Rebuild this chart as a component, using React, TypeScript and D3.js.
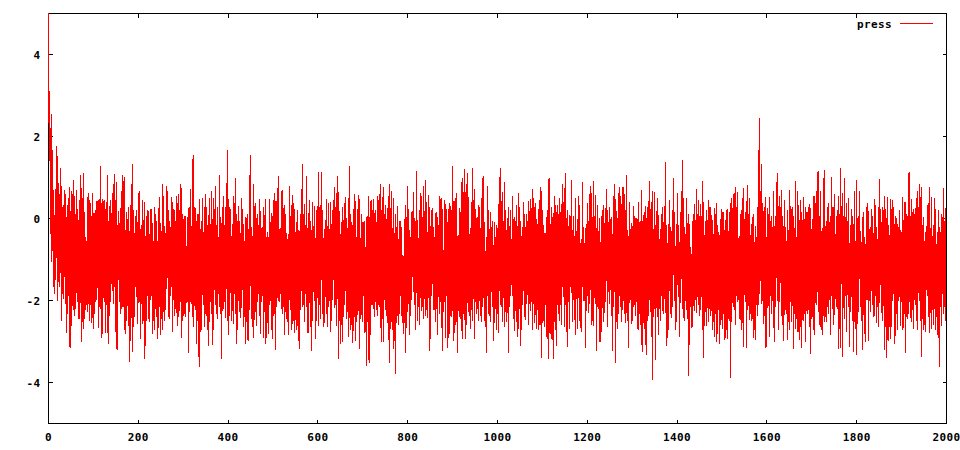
import React from "react";
import * as d3 from "d3";

// Envelope of the "press" series: for each ~3-step bin,
// the highest value (pressHigh) and the lowest value (pressLow).
const pressHigh: number[] = [
  5.4, 3.12, 2.55, 1.68, 0.7, 0.72, 1.76, 1.52, 0.6, 1.24,
  0.8, 0.34, 0.7, 0.6, 0.33, 0.5, 0.78, 0.68, 0.6, 0.93,
  0.1, 0.7, 0.24, 0.44, 1.06, 0.75, 1.1, 0.15, -0.44, 0.52,
  0.63, 0.46, 0.05, 0.63, 0.13, 0.21, 0.42, 0.46, 0.48, 1.27,
  0.48, 0.42, 0.44, 0.4, 1.07, -0.05, 0.44, 0.13, 0.62, 1.09,
  0.46, 0.88, 0.18, -0.11, 0.26, 1.07, 0.91, 1.0, 0.15, -0.02,
  0.28, 0.33, 0.85, 1.32, -0.36, 0.05, 0.2, 0.62, 0.67, -0.26,
  0.44, -0.03, 0.4, 0.05, 0.2, 0.18, 0.23, 0.24, -0.11, 0.29,
  0.11, -0.05, 0.26, 0.52, -0.11, 0.83, 0.54, -0.18, 0.8, 0.67,
  0.2, -0.21, 0.52, 0.41, 0.21, -0.05, 0.55, 0.6, 0.2, 0.83,
  0.11, -0.02, 0.07, -0.66, 0.03, 0.28, 0.72, -0.18, 1.54, 0.28,
  0.26, 0.11,
  0.11, 0.47, -0.07, 0.49, -0.34, 0.59, 0.29, -0.15, 0.49, -0.13,
  0.68, 0.49, 0.24, 0.8, 0.28, -0.44, 1.05, -0.1, 0.29, 0.54,
  0.28, 0.86, 1.66, 0.29, 0.23, -0.42, 0.55, 0.37, 0.98, -0.05,
  0.31, -0.07, 0.5, 0.23, -0.13, 0.03, 0.02, 0.1, 1.05, 1.54,
  -0.21, 0.83, 0.31, 0.39, 0.11, -0.17, 0.47, -0.24, -0.2, 0.28,
  0.47, -0.46, -0.34, 0.47, -0.09, 0.13, 0.44, 0.63, 0.42, 0.75,
  1.04, -0.24, 0.67, 0.7, 0.33, 0.1, -0.36, -0.37, 0.8, 0.07,
  0.57, 0.39, 0.23, -0.08, 0.2, -0.29, 0.11, 0.72, 1.32, 0.36,
  -0.17, 1.04, 0.13, 0.46, -0.05, 0.41, -0.18, 0.31, 0.2, 0.31,
  1.13, 0.32, 1.13, 0.21, -0.25, -0.03, 0.47, 0.37, -0.25, 0.41,
  0.21, 0.46, 0.76, 0.63, 1.04, 0.64, -0.37, -0.09, 0.28, 0.39,
  0.52, 0.02,
  0.5, 1.27, 0.1, -0.17, 0.23, 0.6, -0.46, 0.24, 0.58, -0.47,
  0.1, -0.09, -0.07, -0.7, 0.05, 0.55, 0.03, 0.44, 0.21, 0.47,
  0.21, -0.09, 0.54, 0.6, 0.85, 0.21, 0.78, 0.1, 0.34, 0.26,
  0.54, 0.83, 0.68, -0.24, 0.5, 0.11, -0.2, 0.31, -0.07, -0.07,
  -0.2, -0.91, -0.01, 0.33, 0.8, 0.24, -0.28, 0.15, 0.18, 0.65,
  -0.07, 1.17, -0.03, 0.2, 0.62, 0.54, 0.8, 0.18, 0.94, -0.33,
  0.57, 0.28, 0.2, 0.26, -0.21, 0.13, 0.15, 0.03, 0.54, 0.47,
  0.5, -0.76, 0.46, 0.36, -0.09, 0.23, 0.37, 0.21, 1.28, 0.42,
  0.5, 0.63, -0.41, 0.26, 0.15, 0.98, 0.64, 1.21, 0.85, 1.11,
  0.52, -0.24, 0.41, 1.24, 0.73, 0.24, 0.0, 0.34, 0.29, -0.23,
  0.98, 1.04, -0.08, -0.46, 0.8, 0.21, 0.15, -0.21, -0.07, -0.09,
  -0.46, -0.17,
  0.36, 1.01, 1.24, 0.64, -0.07, 0.88, -0.29, 0.0, 0.28, 0.2,
  -0.49, 0.55, 0.03, -0.05, 0.32, 0.63, 0.28, -0.07, -0.2, 0.41,
  0.11, 0.1, -0.07, 0.42, 0.47, 0.26, 0.72, 0.29, 0.39, -0.01,
  0.23, 0.44, 0.78, 0.2, -0.15, -0.36, 0.03, 0.2, 0.99, -0.13,
  0.28, 0.13, 0.56, 0.34, 0.33, 0.1, 0.5, 0.36, 0.85, 0.4,
  1.11, 0.02, 0.2, 0.08, 0.05, 0.94, 0.07, -0.42, 0.5, -0.02,
  0.55, 0.34, -0.5, 0.89, -0.21, -0.24, -0.13, 0.37, 0.59, 0.8,
  0.63, 0.91, 0.07, 0.57, 0.34, -0.31, 0.02, 0.05, 0.2, 0.32,
  0.26, 0.73, 0.2, 0.28, -0.02, 0.03, 0.54, 0.83, 0.47, 0.0,
  0.62, 0.76, 0.36, 0.78, 0.78, 0.2, 1.05, -0.29, 0.41, -0.26,
  -0.1, 0.31, 0.07, 0.02, -0.02, 0.4, -0.07, 0.7, -0.07, 0.16,
  0.31, 0.0,
  0.42, 0.91, 0.23, 0.67, -0.25, 0.65, 0.18, 0.49, 0.08, -0.25,
  0.1, 0.29, 0.31, 1.39, -0.17, -0.13, 0.44, -0.21, 0.2, 0.99,
  0.16, -0.13, 0.63, -0.15, 0.16, 0.67, 1.43, -0.2, -0.39, 0.5,
  0.1, -0.13, -0.7, -0.07, 0.11, 0.36, 0.72, 0.11, 0.44, 0.36,
  0.07, 0.91, -0.41, -0.07, 0.2, 0.46, 0.29, 0.28, -0.03, -0.37,
  0.26, 0.39, -0.15, -0.33, -0.01, 0.23, 0.15, -0.29, -0.03, 0.24,
  -0.31, 0.15, 0.5, 0.26, 0.59, 0.78, 0.28, 0.64, -0.42, 0.11,
  0.2, 0.75, -0.02, 0.15, 0.81, 0.1, 0.49, -0.13, 0.03, 0.1,
  -0.18, -0.46, 0.29, 2.46, 0.68, 1.33, 0.18, 0.28, 0.52, 0.26,
  0.11, 0.52, 0.07, -0.21, 0.68, 0.05, 0.89, 1.11, 0.56, 0.29,
  0.7, -0.18, 0.44, -0.21, 0.2, -0.28, 0.7, 0.24, 0.29, 0.07,
  0.91, -0.46,
  0.67, -0.03, 0.46, 0.15, 0.52, -0.01, 0.28, 0.15, 0.29, 0.36,
  -0.25, -0.01, 0.54, 0.37, 0.67, 1.15, 0.07, 0.67, -0.24, 0.99,
  1.19, -0.07, 0.28, 0.39, 0.07, 1.02, 0.28, 0.59, -0.39, 0.07,
  0.55, 0.11, 1.24, 0.63, 0.07, 0.98, 0.37, -0.05, 0.5, -0.17,
  0.24, 0.07, 0.68, -0.54, 0.93, 0.07, 0.67, -0.31, 0.03, 0.15,
  -0.46, 0.29, 0.39, 0.18, -0.2, 0.24, 0.07, 0.47, 0.34, -0.21,
  0.29, 0.96, 0.23, 0.29, 0.21, 0.54, 0.02, 0.52, -0.17, 0.47,
  0.24, 0.46, -0.13, 0.05, 0.02, -0.21, 0.2, -0.29, 0.52, -0.03,
  0.4, 0.11, 0.07, 1.14, 0.07, 0.47, 0.24, 0.11, 0.26, 0.68,
  0.29, 0.83, 0.78, -0.15, 0.03, -0.33, -0.18, 0.33, 0.78, -0.23,
  0.52, -0.15, 0.5, 0.24, -0.33, 0.21, -0.21, 0.1, 0.03, 0.75,
  0.26,
];

const pressLow: number[] = [
  1.41, -0.37, -1.07, -1.67, -1.84, -1.51, -2.0, -1.55, -1.67, -2.49,
  -1.84, -1.96, -2.08, -2.8, -2.33, -3.14, -3.15, -2.63, -2.24, -2.37,
  -2.2, -2.04, -2.45, -2.45, -3.02, -2.53, -2.69, -2.24, -2.1, -2.28,
  -2.49, -2.12, -2.55, -2.69, -2.34, -2.04, -1.69, -2.67, -2.2, -2.91,
  -2.81, -2.04, -2.8, -2.1, -3.07, -2.37, -2.04, -1.76, -2.08, -1.66,
  -3.18, -3.2, -1.51, -2.33, -2.2, -2.15, -2.73, -2.81, -2.49, -2.61,
  -3.5, -2.99, -3.26, -2.65, -2.41, -1.92, -2.57, -2.07, -2.93, -2.08,
  -2.57, -3.42, -3.1, -2.5, -2.45, -2.53, -1.98, -2.81, -2.49, -2.73,
  -2.41, -2.93, -2.67, -2.85, -2.45, -2.73, -2.5, -2.24, -1.72, -2.41,
  -2.45, -1.88, -2.77, -1.98, -2.37, -2.31, -2.61, -2.41, -2.04, -2.91,
  -2.49, -2.33, -2.41, -2.07, -3.28, -2.28, -2.08, -2.41, -2.65, -2.24,
  -3.06, -2.49,
  -3.63, -2.77, -2.73, -2.1, -2.65, -2.33, -2.73, -3.12, -2.53, -2.33,
  -3.09, -2.73, -2.1, -2.33, -2.45, -2.16, -2.33, -3.43, -2.2, -2.04,
  -2.42, -2.49, -2.85, -2.37, -2.49, -2.26, -2.57, -2.33, -3.06, -2.72,
  -2.28, -2.42, -2.18, -2.65, -2.41, -3.07, -2.96, -2.98, -2.24, -2.45,
  -2.65, -2.91, -2.28, -2.61, -2.04, -2.37, -2.81, -2.04, -2.91, -2.28,
  -3.07, -2.55, -2.81, -2.1, -2.73, -2.94, -2.39, -3.2, -2.16, -2.0,
  -2.04, -1.85, -2.33, -2.16, -2.85, -2.45, -2.53, -2.85, -2.24, -2.73,
  -2.57, -2.8, -2.47, -2.73, -2.98, -3.18, -2.24, -2.16, -2.1, -2.53,
  -2.15, -2.8, -2.8, -2.65, -3.24, -2.49, -2.02, -2.94, -2.49, -2.63,
  -2.1, -2.45, -2.33, -2.65, -2.54, -2.33, -2.65, -2.15, -2.77, -2.49,
  -1.98, -2.18, -2.12, -2.61, -3.43, -2.49, -3.06, -3.0, -2.41, -2.12,
  -2.45, -2.28,
  -2.88, -2.73, -2.59, -3.04, -2.41, -2.98, -2.53, -2.26, -3.18, -2.45,
  -2.53, -1.9, -2.8, -3.59, -2.52, -3.53, -2.85, -2.1, -2.2, -2.41,
  -2.04, -2.39, -2.12, -2.16, -3.02, -2.45, -3.02, -2.24, -2.37, -2.55,
  -3.53, -2.69, -2.53, -3.18, -2.98, -3.79, -2.39, -2.59, -2.33, -2.37,
  -2.55, -2.81, -3.28, -2.67, -2.28, -2.85, -2.39, -1.98, -1.8, -2.1,
  -2.72, -2.49, -2.16, -2.59, -2.26, -2.15, -2.45, -2.37, -2.23, -2.42,
  -3.24, -2.94, -1.9, -2.23, -2.24, -2.52, -2.85, -1.92, -2.33, -2.67,
  -3.24, -2.28, -2.91, -1.9, -3.15, -2.81, -2.37, -2.41, -2.98, -2.8,
  -2.59, -3.28, -2.26, -2.45, -2.75, -2.94, -2.47, -2.94, -2.59, -2.28,
  -2.37, -2.69, -2.49, -1.96, -2.94, -2.33, -2.2, -2.49, -2.39, -2.52,
  -2.16, -2.49, -2.65, -3.28, -2.33, -2.39, -2.53, -2.16, -2.98, -2.55,
  -2.73, -2.33,
  -2.8, -2.1, -2.16, -2.52, -2.65, -2.28, -2.53, -3.28, -2.16, -1.9,
  -1.88, -2.45, -2.75, -2.53, -2.89, -2.69, -3.11, -2.73, -2.1, -2.41,
  -2.47, -2.08, -2.59, -2.08, -2.26, -2.73, -2.08, -2.55, -2.69, -2.23,
  -2.73, -2.59, -3.4, -2.55, -2.65, -2.12, -2.94, -3.42, -2.8, -2.94,
  -2.96, -3.42, -2.73, -3.1, -2.1, -2.49, -2.12, -2.59, -1.92, -2.65,
  -2.1, -3.14, -2.04, -2.69, -1.82, -2.53, -1.98, -2.85, -1.96, -2.69,
  -2.49, -2.67, -2.77, -2.0, -2.0, -3.15, -1.88, -2.31, -2.08, -2.59,
  -2.49, -2.61, -2.08, -3.22, -2.16, -3.0, -3.01, -2.77, -2.52, -2.31,
  -2.04, -2.65, -1.8, -2.08, -2.39, -3.22, -2.16, -3.53, -2.52, -2.69,
  -1.88, -2.15, -2.53, -2.0, -2.33, -2.55, -2.49, -3.15, -2.07, -2.57,
  -2.49, -2.16, -2.39, -2.04, -2.73, -2.33, -2.59, -3.26, -2.55, -2.69,
  -3.32, -2.49,
  -2.37, -2.28, -2.88, -3.93, -2.2, -3.46, -2.18, -2.85, -2.2, -2.49,
  -2.26, -2.33, -1.96, -3.12, -2.91, -2.73, -2.33, -2.42, -2.15, -2.0,
  -2.73, -2.52, -1.92, -2.89, -2.07, -2.2, -2.42, -2.49, -2.23, -2.45,
  -3.85, -2.15, -2.67, -2.65, -2.26, -1.98, -2.31, -2.1, -2.37, -2.23,
  -2.73, -3.4, -2.63, -2.61, -2.18, -2.52, -2.37, -2.26, -2.73, -2.89,
  -2.33, -3.0, -2.23, -3.06, -2.59, -2.69, -2.33, -2.96, -2.73, -2.94,
  -2.49, -3.89, -2.53, -2.16, -2.24, -2.59, -2.04, -1.98, -2.45, -2.73,
  -2.55, -3.14, -2.04, -3.15, -2.24, -2.47, -2.33, -2.49, -2.91, -2.73,
  -2.96, -2.37, -2.12, -1.84, -2.08, -2.0, -2.57, -3.15, -3.14, -2.18,
  -2.89, -1.88, -2.33, -2.67, -3.02, -2.16, -2.0, -2.73, -2.04, -2.37,
  -2.59, -2.98, -2.23, -2.33, -2.96, -2.73, -2.04, -2.53, -3.18, -2.33,
  -2.69, -2.77,
  -2.77, -2.96, -3.15, -2.47, -2.49, -3.01, -2.26, -2.33, -2.65, -3.3,
  -2.45, -2.73, -2.85, -2.1, -1.8, -2.28, -2.65, -2.72, -2.85, -2.53,
  -2.41, -2.53, -2.33, -1.98, -2.85, -2.2, -2.59, -2.36, -2.16, -2.2,
  -3.18, -3.15, -1.59, -3.37, -2.45, -1.88, -2.77, -2.16, -3.14, -2.28,
  -2.49, -3.26, -2.53, -3.32, -2.57, -2.28, -2.16, -2.49, -3.2, -2.81,
  -3.02, -1.98, -2.98, -2.0, -2.28, -2.1, -2.41, -2.37, -2.55, -2.16,
  -2.65, -1.63, -2.31, -2.49, -3.2, -2.65, -3.4, -2.98, -2.65, -2.94,
  -2.02, -1.84, -3.06, -2.33, -2.73, -2.0, -2.63, -2.03, -2.72, -2.33,
  -3.28, -2.45, -2.33, -2.04, -2.53, -2.24, -2.69, -2.12, -2.49, -2.73,
  -2.0, -2.49, -3.37, -2.73, -2.59, -2.77, -1.88, -2.41, -2.8, -2.69,
  -2.24, -2.59, -2.73, -2.41, -2.85, -3.63, -2.16, -2.61, -2.33, -2.16,
  -2.49,
];

const xTicks = [0, 200, 400, 600, 800, 1000, 1200, 1400, 1600, 1800, 2000];
const yTicks = [-4, -2, 0, 2, 4];
const xDomain: [number, number] = [0, 2000];
const yDomain: [number, number] = [-5, 5];
const seriesName = "press";

export default function App() {
  const W = 960;
  const H = 450;
  const left = 48.5, right = 946.5, top = 13.5, bottom = 423.5;
  const x = d3.scaleLinear().domain(xDomain).range([left, right]);
  const y = d3.scaleLinear().domain(yDomain).range([bottom, top]);

  const n = Math.min(pressHigh.length, pressLow.length);
  const step = (xDomain[1] - xDomain[0]) / n;
  const pts: [number, number][] = [];
  for (let k = 0; k < n; k++) {
    pts.push([xDomain[0] + k * step, pressHigh[k]]);
    pts.push([xDomain[0] + k * step + step / 2, pressLow[k]]);
  }
  const line = d3
    .line<[number, number]>()
    .x((d) => x(d[0]))
    .y((d) => y(d[1]));

  const font = {
    fontFamily: "'DejaVu Sans Mono', 'Liberation Mono', monospace",
    fontWeight: 700 as const,
    fontSize: 11,
    letterSpacing: 0.4,
  };
  const tl = 4;

  return (
    <svg
      width={W}
      height={H}
      viewBox={`0 0 ${W} ${H}`}
      style={{ position: "absolute", left: 0, top: 0, background: "#fff" }}
    >
      <defs>
        <clipPath id="plotclip">
          <rect x={left - 0.5} y={top - 0.5} width={right - left + 1} height={bottom - top + 1} />
        </clipPath>
      </defs>
      <rect x={0} y={0} width={W} height={H} fill="#fff" />
      <g stroke="#000" strokeWidth={1} shapeRendering="crispEdges">
        {xTicks.map((t) => (
          <g key={"xt" + t}>
            <line x1={x(t)} x2={x(t)} y1={bottom} y2={bottom - tl} />
            <line x1={x(t)} x2={x(t)} y1={top} y2={top + tl} />
          </g>
        ))}
        {yTicks.map((t) => (
          <g key={"yt" + t}>
            <line x1={left} x2={left + tl} y1={y(t)} y2={y(t)} />
            <line x1={right} x2={right - tl} y1={y(t)} y2={y(t)} />
          </g>
        ))}
        <rect x={left} y={top} width={right - left} height={bottom - top} fill="none" />
      </g>
      <g clipPath="url(#plotclip)">
        <path
          d={line(pts) || ""}
          fill="none"
          stroke="#ff0000"
          strokeWidth={1}
          strokeLinejoin="miter"
          shapeRendering="crispEdges"
        />
      </g>
      <g {...font} fill="#000">
        {xTicks.map((t) => (
          <text key={"xl" + t} x={x(t)} y={441} textAnchor="middle">
            {t}
          </text>
        ))}
        {yTicks.map((t) => (
          <text key={"yl" + t} x={40.5} y={y(t) + 4} textAnchor="end">
            {t}
          </text>
        ))}
        <text x={892} y={27.5} textAnchor="end">
          {seriesName}
        </text>
      </g>
      <line
        x1={900}
        x2={933}
        y1={23.5}
        y2={23.5}
        stroke="#ff0000"
        strokeWidth={1}
        shapeRendering="crispEdges"
      />
    </svg>
  );
}
